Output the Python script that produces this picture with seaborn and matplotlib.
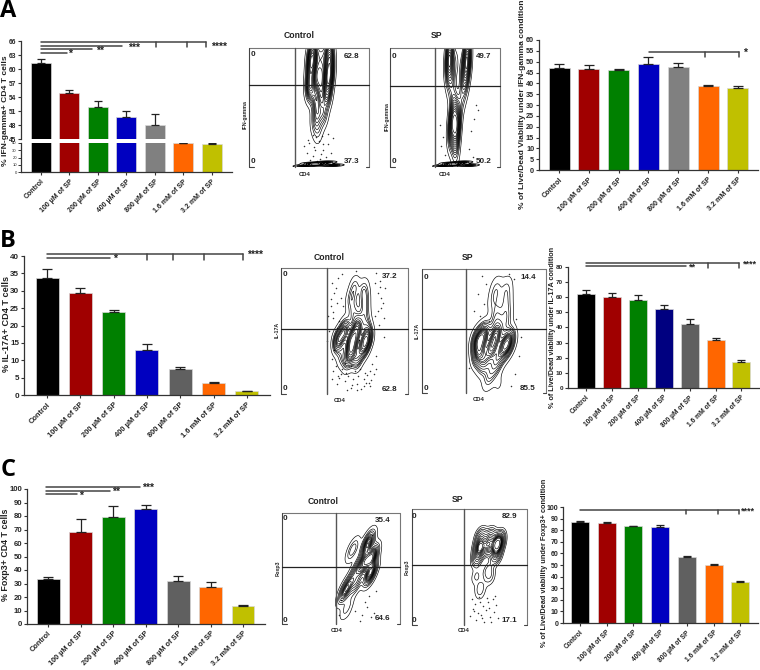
import matplotlib
matplotlib.use("Agg")
import matplotlib.pyplot as plt
from matplotlib.lines import Line2D
import seaborn as sns

sns.set_style("ticks")
plt.rcParams['font.family'] = ['Liberation Sans', 'DejaVu Sans']

W, H = 760, 670

# categorias y colores
labels = ["Control", "100 µM of SP", "200 µM of SP", "400 µM of SP",
          "800 µM of SP", "1.6 mM of SP", "3.2 mM of SP"]
colors = ["#000000", "#a00000", "#008000", "#0000c0", "#606060", "#ff6600", "#c0c000"]
colors_a = ["#000000", "#a00000", "#008000", "#0000c0", "#808080", "#ff6600", "#c0c000"]
colors_b = ["#000000", "#a00000", "#008000", "#000080", "#606060", "#ff6600", "#c0c000"]

# barras: media y extremo de la barra de error
ifn_vals = [61.3, 54.8, 51.9, 49.7, 47.9, 39.5, 39.2]
ifn_tops = [62.2, 55.4, 53.2, 51.0, 50.3, 39.8, 39.4]
ifn_live_vals = [47.0, 46.5, 46.2, 49.0, 47.5, 38.9, 38.0]
ifn_live_tops = [48.8, 48.3, 46.8, 52.2, 49.5, 39.2, 38.6]
il17_vals = [33.8, 29.4, 24.0, 13.0, 7.5, 3.4, 1.1]
il17_tops = [36.2, 30.8, 24.5, 14.7, 8.2, 3.6, 1.15]
il17_live_vals = [62.0, 60.0, 58.5, 52.0, 42.3, 31.7, 17.2]
il17_live_tops = [64.7, 62.5, 61.3, 55.2, 45.5, 33.2, 18.8]
foxp3_vals = [33.0, 68.0, 79.5, 85.3, 32.2, 27.7, 13.0]
foxp3_tops = [35.0, 78.0, 87.3, 88.3, 35.6, 31.2, 14.2]
foxp3_live_vals = [87.3, 86.5, 83.7, 83.0, 57.0, 49.7, 35.5]
foxp3_live_tops = [87.8, 87.0, 84.0, 84.8, 57.8, 51.2, 35.9]

# citometria: puntos de densidad (% del marco) y sus pesos
a_ctrl_x = [53, 67, 52, 67, 51, 66, 60, 51, 56, 65, 57, 62, 55, 58, 57]
a_ctrl_y = [95, 95, 85, 82, 72, 72, 90, 65, 60, 60, 48, 45, 38, 32, 28]
a_ctrl_w = [3, 3, 3, 3, 2, 3, 1, 2, 2, 2, 1.5, 1.5, 1, 0.6, 0.3]
a_ctrl_band_x = [46, 52, 58, 64, 70]
a_ctrl_band_y = [1, 3, 2, 4, 1.5]
a_ctrl_dots_x = [50, 54, 58, 62, 48, 66, 53, 60, 56, 70, 46, 64, 51, 59, 68, 55, 62, 49, 57, 66, 53, 61]
a_ctrl_dots_y = [20, 17, 22, 14, 12, 19, 9, 11, 25, 24, 18, 8, 6, 7, 12, 14, 19, 23, 5, 28, 27, 26]

a_sp_x = [54, 70, 54, 70, 60, 66, 56, 68, 58, 65, 58, 61, 56, 60, 60, 59, 61]
a_sp_y = [95, 95, 85, 85, 88, 82, 72, 72, 55, 58, 42, 38, 32, 30, 22, 14, 8]
a_sp_w = [3, 3, 3, 3, 1, 1, 1.5, 1.5, 1, 1, 3, 3, 3, 2, 1, 0.5, 0.3]
a_sp_band_x = [48, 54, 60, 66, 72]
a_sp_band_y = [1, 3, 2, 4, 1.5]
a_sp_dots_x = [48, 74, 76, 46, 72, 78, 80, 45, 75, 50]
a_sp_dots_y = [25, 30, 40, 18, 15, 52, 48, 35, 8, 10]

b_ctrl_x = [58, 65, 55, 66, 57, 66, 60, 67, 45, 50, 60, 68, 55, 65, 56, 48, 60, 52]
b_ctrl_y = [85, 83, 75, 75, 65, 65, 57, 55, 42, 50, 50, 45, 33, 38, 42, 30, 28, 25]
b_ctrl_w = [1, 1, 1, 1, 1, 1, 1, 1, 3, 3, 3, 3, 3, 3, 4, 1, 2, 1]
b_ctrl_dots_x = [40, 42, 45, 48, 44, 41, 46, 78, 76, 80, 74, 77, 79, 75, 38, 40, 43, 47, 50, 55, 60, 65, 70, 48, 53, 58,
                 63, 68, 72, 44, 52, 57, 62, 67, 50, 60, 70, 46, 55, 65, 42, 75, 39, 81, 37, 82, 49, 59,
                 43, 47, 39, 44, 41, 78, 81, 76, 79, 74, 41, 45, 51, 56, 61, 66, 71, 36, 40, 75, 73, 69]
b_ctrl_dots_y = [88, 80, 92, 95, 72, 65, 58, 90, 80, 72, 62, 55, 68, 96, 50, 28, 22, 16, 10, 5, 8, 12, 6, 20, 14, 18,
                 4, 15, 24, 8, 3, 12, 20, 9, 25, 3, 18, 13, 22, 6, 35, 30, 75, 45, 62, 84, 70, 98,
                 84, 76, 70, 52, 60, 85, 60, 66, 76, 88, 18, 14, 17, 7, 14, 17, 11, 42, 12, 20, 16, 9]

b_sp_x = [60, 68, 58, 68, 60, 68, 60, 68, 45, 50, 60, 70, 46, 56, 66, 50, 60, 55, 52, 62]
b_sp_y = [85, 85, 75, 75, 65, 65, 57, 57, 42, 47, 47, 42, 32, 36, 36, 25, 25, 15, 8, 7]
b_sp_w = [0.7, 0.7, 0.7, 0.7, 0.7, 0.7, 0.7, 0.7, 3, 3, 3, 3, 3, 3, 3, 2, 2, 1, 0.3, 0.3]
b_sp_dots_x = [50, 47, 45, 74, 76, 70, 52, 78, 42, 80, 75, 72, 38, 48, 54]
b_sp_dots_y = [72, 62, 80, 92, 60, 96, 88, 30, 66, 45, 15, 6, 20, 94, 58]

c_ctrl_x = [73, 76, 75, 63, 53, 55, 58, 60, 64, 72, 58, 70]
c_ctrl_y = [74, 60, 46, 37, 29, 15, 3, 67, 51, 68, 38, 55]
c_ctrl_w = [3, 5, 5, 2, 3, 1, 0.2, 1.5, 2, 2, 2, 4]
c_ctrl_dots_x = [62, 68, 72, 75, 78, 66, 70, 74, 50, 48, 80, 76]
c_ctrl_dots_y = [12, 8, 15, 6, 10, 3, 20, 25, 22, 8, 30, 80]

c_sp_x = [59, 74, 66, 60, 76, 68, 57, 73, 59, 68, 66, 56, 60]
c_sp_y = [67, 69, 68, 76, 74, 76, 58, 60, 32, 41, 47, 42, 27]
c_sp_w = [4, 6, 3, 2, 2, 2, 2, 2, 0.6, 0.6, 1, 0.6, 0.3]
c_sp_dots_x = [52, 55, 58, 62, 66, 70, 54, 60, 64, 68, 73, 56, 63, 71, 50, 59, 67, 75, 53, 61, 69, 57, 65, 72]
c_sp_dots_y = [22, 18, 24, 16, 20, 22, 12, 9, 13, 7, 17, 4, 3, 11, 8, 20, 15, 6, 14, 6, 3, 10, 23, 25]

fig = plt.figure(figsize=(W / 100, H / 100), dpi=100)


# todo se coloca en pixeles de la imagen
def px_axes(x0, y0, x1, y1):
    return fig.add_axes([x0 / W, 1 - y1 / H, (x1 - x0) / W, (y1 - y0) / H])


def px_line(x0, y0, x1, y1, color="#444444", lw=1.1):
    fig.add_artist(Line2D([x0 / W, x1 / W], [1 - y0 / H, 1 - y1 / H],
                          transform=fig.transFigure, color=color, lw=lw))


def px_text(x, y, s, **kw):
    kw.setdefault("ha", "center")
    kw.setdefault("va", "center")
    kw.setdefault("zorder", 5)
    fig.text(x / W, 1 - y / H, s, **kw)


def bars(ax, vals, tops, pal, c0, step, x0, x1, width):
    sns.barplot(x=labels, y=vals, hue=labels, palette=pal, legend=False, errorbar=None,
                saturation=1, width=width / step, dodge=False, ax=ax,
                edgecolor="#d8d8d8", linewidth=0.5)
    ups = [t - v for t, v in zip(tops, vals)]
    ax.errorbar(range(len(vals)), vals, yerr=[[0] * len(vals), ups], fmt="none",
                ecolor="#222222", elinewidth=0.9, capsize=width * 0.16, capthick=0.9)
    ax.set_xlim((x0 - c0) / step, (x1 - c0) / step)
    sns.despine(ax=ax)
    for s in ax.spines.values():
        s.set_color("#333333")
        s.set_linewidth(0.9)


def bar_panel(box, c0, step, width, vals, tops, pal, ymax, ystep, tick_fs, xtick_fs):
    ax = px_axes(*box)
    bars(ax, vals, tops, pal, c0, step, box[0], box[2], width)
    ax.set_ylim(0, ymax)
    ax.set_yticks(range(0, ymax + 1, ystep))
    finish_x(ax, xtick_fs)
    ax.tick_params(axis="y", labelsize=tick_fs, length=2.5, width=0.8, pad=1, color="#333333")
    for t in ax.get_yticklabels():
        t.set_fontweight("bold")
    return ax


def finish_x(ax, fs):
    ax.set_xticks(range(len(labels)))
    ax.set_xticklabels(labels, rotation=45, ha="right", va="top", rotation_mode="anchor",
                       fontsize=fs, fontweight="bold", color="#222222")
    ax.tick_params(axis="x", length=2.5, width=0.8, pad=2, color="#333333")
    ax.set_xlabel("")
    ax.set_ylabel("")


def flow_panel(frame, vx, hy, title, title_xy, tags, marker, marker_xy, cd4_xy,
               x, y, w, dots_x, dots_y, band_x=None, band_y=None, adj=0.6, levels=15):
    ax = px_axes(*frame)
    sns.kdeplot(x=x, y=y, weights=w, levels=levels, thresh=0.03, bw_adjust=adj, color="black",
                linewidths=0.45, gridsize=150, ax=ax)
    if band_x is not None:
        sns.kdeplot(x=band_x, y=band_y, levels=6, thresh=0.08, bw_adjust=0.7, color="black",
                    linewidths=0.6, gridsize=120, ax=ax)
    sns.scatterplot(x=dots_x, y=dots_y, s=1.2, color="#333333", linewidth=0, ax=ax)
    ax.set_xlim(0, 100)
    ax.set_ylim(0, 100)
    ax.axis("off")
    x0, y0, x1, y1 = frame
    px_line(x0, y0, x1, y0, "#777777", 0.8)
    px_line(x0, y0, x0, y1, "#444444", 0.8)
    px_line(x1, y0, x1, y1, "#777777", 0.8)
    px_line(x0, y1, x0 + 5, y1, "#444444", 0.8)
    px_line(x1 - 3, y1, x1, y1, "#444444", 0.8)
    px_line(vx, y0, vx, y1, "#555555", 1.0)
    px_line(x0, hy, x1, hy, "#222222", 0.9)
    px_text(*title_xy, title, fontsize=6.2, fontweight="bold", color="#222222")
    for tx, ty, s in tags:
        px_text(tx, ty, s, fontsize=5.8, fontweight="bold", color="#222222")
    px_text(*marker_xy, marker, rotation=90, fontsize=3.8, fontweight="bold", color="#222222")
    px_text(*cd4_xy, "CD4", fontsize=4.2, fontweight="bold", color="#222222")


def ylabel(x, y, s, fs):
    px_text(x, y, s, rotation=90, fontsize=fs, fontweight="bold", color="#222222")


def stars(x, y, s, fs=7.5):
    px_text(x, y + 1.5, s, fontsize=fs, fontweight="bold", color="#222222")


# ---- Panel A ----
# eje cortado: parte de arriba 45-66 y parte de abajo 0-40
ax_up = px_axes(21, 41, 232, 139)
bars(ax_up, ifn_vals, ifn_tops, colors_a, 41, 28.5, 21, 232, 20)
ax_up.set_ylim(45, 66)
ax_up.set_yticks(range(45, 67, 3))
ax_up.spines["bottom"].set_visible(False)
ax_up.tick_params(axis="x", bottom=False, labelbottom=False)
ax_up.tick_params(axis="y", labelsize=4.8, length=2.5, width=0.8, pad=1, color="#333333")
for t in ax_up.get_yticklabels():
    t.set_fontweight("bold")
ax_up.set_xlabel("")

ax_low = px_axes(21, 143, 232, 172)
bars(ax_low, ifn_vals, ifn_tops, colors_a, 41, 28.5, 21, 232, 20)
ax_low.set_ylim(0, 40)
ax_low.set_yticks(range(0, 41, 10))
finish_x(ax_low, 5.0)
ax_low.tick_params(axis="y", labelsize=3.0, length=2, width=0.7, pad=1, color="#333333")
ylabel(6, 111, "% IFN-gamma+ CD4 T cells", 6.1)

px_line(41, 42, 206, 42)
for tx in [156, 187, 206]:
    px_line(tx, 42, tx, 47)
stars(219, 45, "****")
px_line(41, 46, 122, 46)
stars(134, 46, "***")
px_line(41, 49, 92, 49)
stars(100, 49, "**")
px_line(41, 53, 67, 53)
stars(70, 52.5, "*")

flow_panel((249, 48, 369, 167), 295, 85, "Control", (299, 36),
           [(253, 55, "0"), (253, 162, "0"), (352, 56, "62.8"), (352, 162, "37.3")],
           "IFN-gamma", (245, 115), (305, 174),
           a_ctrl_x, a_ctrl_y, a_ctrl_w, a_ctrl_dots_x, a_ctrl_dots_y, a_ctrl_band_x, a_ctrl_band_y)
flow_panel((390, 48, 500, 167), 435, 86, "SP", (437, 36),
           [(394, 57, "0"), (394, 162, "0"), (484, 57, "49.7"), (484, 162, "50.2")],
           "IFN-gamma", (387, 117), (445, 174),
           a_sp_x, a_sp_y, a_sp_w, a_sp_dots_x, a_sp_dots_y, a_sp_band_x, a_sp_band_y)

bar_panel((539, 40, 758, 170), 559, 29.8, 21, ifn_live_vals, ifn_live_tops, colors_a, 60, 5, 5.2, 5.1)
ylabel(523, 104, "% of Live/Dead Viability under IFN-gamma condition", 6.0)
px_line(649, 52, 739, 52)
for tx in [705, 739]:
    px_line(tx, 52, tx, 57)
stars(745, 51.5, "*")

# ---- Panel B ----
bar_panel((24, 256, 270, 395), 47, 33.3, 23, il17_vals, il17_tops, colors, 40, 5, 5.8, 5.4)
ylabel(7, 324, "% IL-17A+ CD4 T cells", 6.6)
px_line(47, 254, 243, 254)
for tx in [147, 173, 204, 243]:
    px_line(tx, 254, tx, 260)
stars(255, 253, "****")
px_line(47, 258, 110, 258)
stars(115, 257.5, "*")

flow_panel((281, 268, 408, 394), 327, 329, "Control", (329, 257),
           [(285, 275, "0"), (285, 388, "0"), (390, 277, "37.2"), (390, 389, "62.8")],
           "IL-17A", (277, 330), (340, 401),
           b_ctrl_x, b_ctrl_y, b_ctrl_w, b_ctrl_dots_x, b_ctrl_dots_y)
flow_panel((422, 269, 546, 393), 466, 329, "SP", (468, 257),
           [(426, 278, "0"), (426, 388, "0"), (528, 278, "14.4"), (528, 388, "85.5")],
           "IL-17A", (417, 331), (479, 400),
           b_sp_x, b_sp_y, b_sp_w, b_sp_dots_x, b_sp_dots_y)

bar_panel((568, 267, 759, 388), 586, 25.9, 18, il17_live_vals, il17_live_tops, colors_b, 80, 10, 4.6, 4.8)
ylabel(552.5, 327, "% of Live/Dead viability under IL-17A condition", 5.2)
px_line(586, 263, 739, 263)
for tx in [708, 739]:
    px_line(tx, 263, tx, 268)
stars(750, 263, "****", 6.5)
px_line(586, 266, 686, 266)
stars(692, 266, "**", 6.5)

# ---- Panel C ----
bar_panel((27, 489, 265, 624), 48, 32.5, 23, foxp3_vals, foxp3_tops, colors, 100, 10, 5.6, 5.3)
ylabel(6, 555, "% Foxp3+ CD4 T cells", 6.4)
px_line(46, 487, 140, 487)
stars(148, 486, "***")
px_line(46, 491, 110, 491)
stars(116, 490, "**")
px_line(46, 494, 77, 494)
stars(81, 494, "*")

flow_panel((282, 513, 400, 624), 336, 567, "Control", (323, 502),
           [(285, 519, "0"), (285, 620, "0"), (383, 520, "35.4"), (383, 619, "64.6")],
           "Foxp3", (278, 568), (337, 631),
           c_ctrl_x, c_ctrl_y, c_ctrl_w, c_ctrl_dots_x, c_ctrl_dots_y)
flow_panel((412, 509, 527, 625), 464, 565, "SP", (458, 499),
           [(414, 517, "0"), (414, 620, "0"), (509, 517, "82.9"), (509, 620, "17.1")],
           "Foxp3", (407, 567), (464, 631),
           c_sp_x, c_sp_y, c_sp_w, c_sp_dots_x, c_sp_dots_y)

bar_panel((563, 507, 758, 623), 580, 26.7, 18, foxp3_live_vals, foxp3_live_tops, colors, 100, 10, 5.0, 4.8)
ylabel(545, 563, "% of Live/Dead viability under Foxp3+ condition", 5.3)
px_line(580, 510, 739, 510)
for tx in [686, 718, 739]:
    px_line(tx, 510, tx, 514)
stars(748, 510, "****", 6.5)

# letras de los paneles
for ly, letter in [(11, "A"), (241, "B"), (470, "C")]:
    px_text(8, ly, letter, family="Open Sans", fontsize=17, fontweight="bold", color="black")

fig.savefig("out.png", dpi=100)
